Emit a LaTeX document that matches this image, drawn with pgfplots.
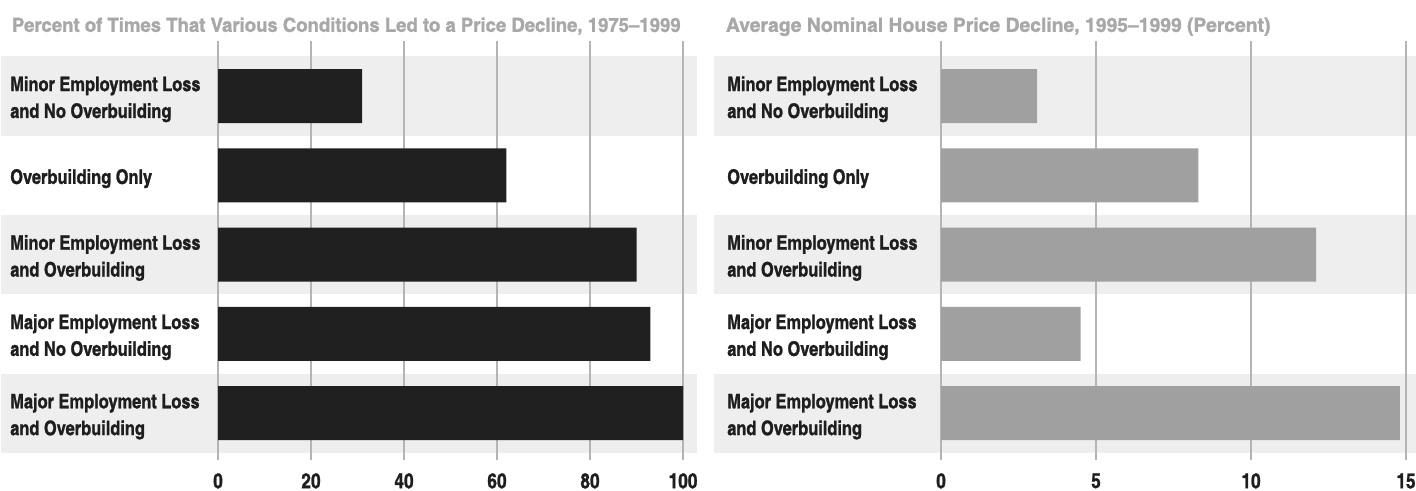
\documentclass[border=0pt]{standalone}
\usepackage{pgfplots}
\pgfplotsset{compat=1.18}
\usepackage{fontspec}
\newfontfamily\cnb{texgyreheroscn-bold}[Extension=.otf, Ligatures=TeX, FakeBold=1.2]
\newfontfamily\cnbt{texgyreheroscn-bold}[Extension=.otf, Ligatures=TeX, FakeBold=1.2, FakeStretch=1.162]
\newfontfamily\cnbr{texgyreheroscn-bold}[Extension=.otf, Ligatures=TeX, FakeBold=1.2, FakeStretch=1.21]
\definecolor{band}{HTML}{EEEEEE}
\definecolor{leftbar}{HTML}{202020}
\definecolor{rightbar}{HTML}{A0A0A0}
\definecolor{gridc}{HTML}{B4B4B4}
\definecolor{titlec}{HTML}{A8A8A8}
\definecolor{labc}{HTML}{1E1E1E}
\pgfplotsset{panel/.style={
  xbar, scale only axis, width=348.75pt, height=314.25pt,
  ymin=0.3064, ymax=5.590, y dir=reverse, ytick={1,2,3,4,5},
  axis line style={draw=none}, major tick length=0pt,
  xmajorgrids, ymajorgrids=false, grid style={draw=gridc, line width=1pt},
  bar width=0.681, bar shift=0pt,
  xticklabel style={font=\cnb\fontsize{15.75}{18}\selectfont, text=labc, inner sep=0pt, anchor=north, yshift=-9.75pt},
  yticklabel style={font=\cnb\fontsize{15}{20.1}\selectfont, text=labc, anchor=west, align=left, inner sep=0pt, yshift=-2.5pt},
  yticklabels={{Minor Employment Loss\\and No Overbuilding},{Overbuilding Only},{Minor Employment Loss\\and Overbuilding},{Major Employment Loss\\and No Overbuilding},{Major Employment Loss\\and Overbuilding}},
}}
\begin{document}
\begin{tikzpicture}
\useasboundingbox (0,0) rectangle (1062pt,-368.25pt);
% alternating row bands
\foreach \ya/\yb in {-42.26/-101.74,-161.21/-220.69,-280.16/-339.64}{
  \fill[band] (0.75pt,\ya pt) rectangle (522.75pt,\yb pt);
  \fill[band] (535.5pt,\ya pt) rectangle (1062pt,\yb pt);
}
\node[anchor=base west, inner sep=0pt, font=\cnbt\fontsize{14.6}{16}\selectfont, text=titlec] at (8.775pt,-23.85pt) {Percent of Times That Various Conditions Led to a Price Decline, 1975–1999};
\node[anchor=base west, inner sep=0pt, font=\cnbr\fontsize{14.6}{16}\selectfont, text=titlec] at (544.3pt,-23.85pt) {Average Nominal House Price Decline, 1995–1999 (Percent)};
\begin{axis}[panel, at={(163.5pt,-345pt)}, anchor=south west,
  xmin=0, xmax=100, xtick={0,20,40,60,80,100}, xticklabels={0,20,40,60,80,100},
  yticklabel style={xshift=-156pt}]
\addplot[fill=leftbar, draw=none] coordinates {(31,1) (62,2) (90,3) (93,4) (100,5)};
\end{axis}
\begin{axis}[panel, at={(705.75pt,-345pt)}, anchor=south west,
  xmin=0, xmax=15, xtick={0,5,10,15}, xticklabels={0,5,10,15},
  yticklabel style={xshift=-160.5pt}]
\addplot[fill=rightbar, draw=none] coordinates {(3.1,1) (8.3,2) (12.1,3) (4.5,4) (14.8,5)};
\end{axis}
\end{tikzpicture}
\end{document}
